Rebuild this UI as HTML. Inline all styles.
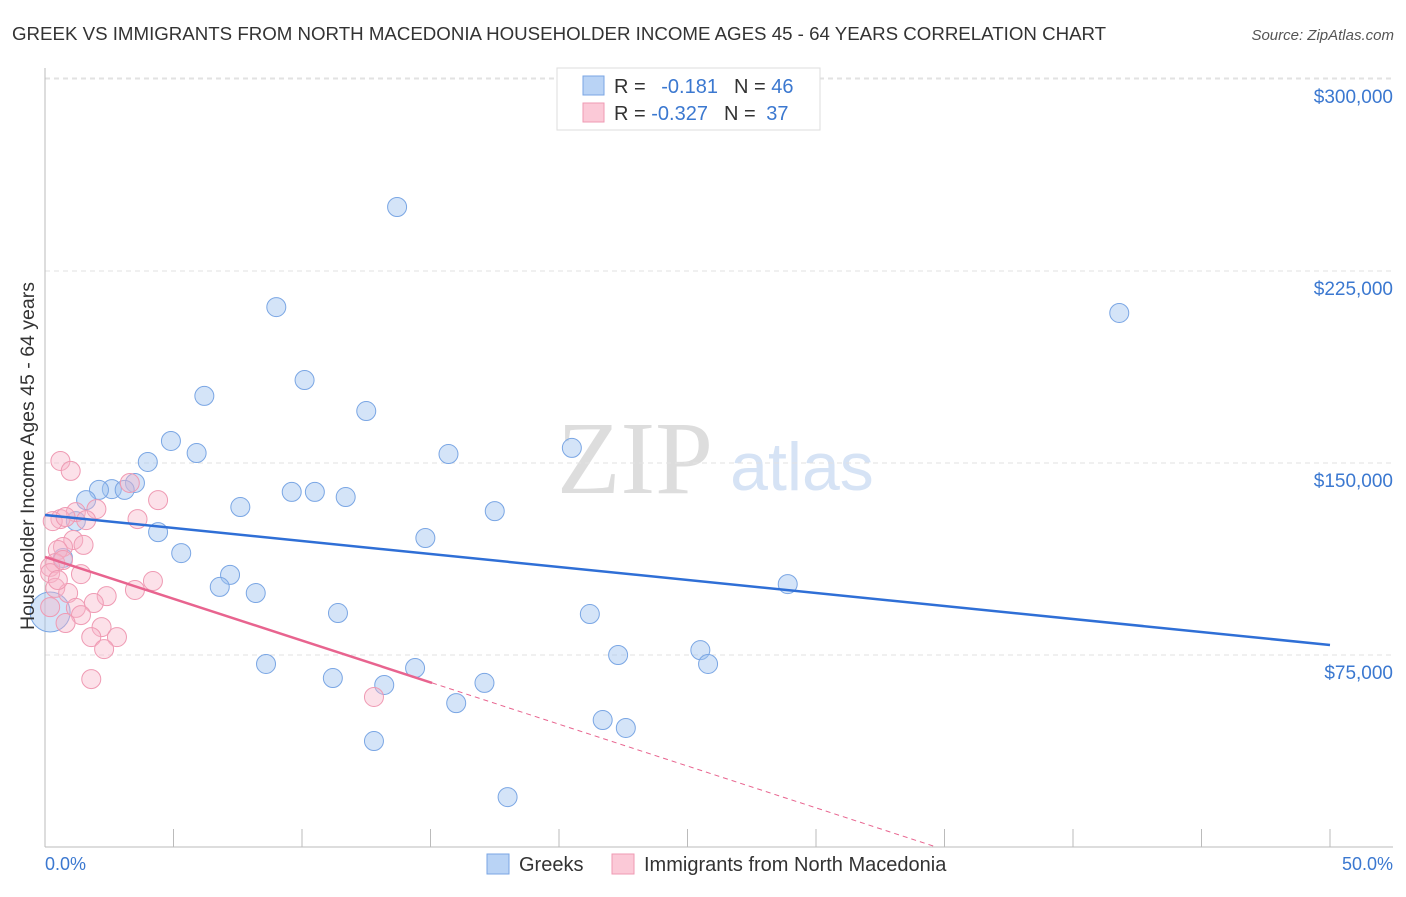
<!DOCTYPE html>
<html><head><meta charset="utf-8"><style>
body{margin:0;background:#fff;font-family:"Liberation Sans",sans-serif}
svg text{font-family:"Liberation Sans",sans-serif}
</style></head><body>
<svg id="chart" width="1406" height="892">
<text x="12" y="40" font-size="18.7" fill="#333">GREEK VS IMMIGRANTS FROM NORTH MACEDONIA HOUSEHOLDER INCOME AGES 45 - 64 YEARS CORRELATION CHART</text>
<text x="1394" y="40" font-size="15" fill="#555" font-style="italic" text-anchor="end">Source: ZipAtlas.com</text>
<text x="635" y="493" font-size="104" fill="#ddd" text-anchor="middle" style="font-family:'Liberation Serif',serif">ZIP</text>
<text x="802" y="490" font-size="68" fill="#d6e3f5" text-anchor="middle">atlas</text>
<g id="grid"></g><g id="axes"></g><g id="marks"></g>
<text transform="translate(34,456) rotate(-90)" font-size="19.5" fill="#333" text-anchor="middle">Householder Income Ages 45 - 64 years</text>
<text x="45" y="870" font-size="18" fill="#3b78d0">0.0%</text>
<text x="1393" y="870" font-size="18" fill="#3b78d0" text-anchor="end">50.0%</text>
<g>
<rect x="557" y="68" width="263" height="62" fill="#fff" stroke="#ddd"/>
<rect x="583" y="76" width="21" height="19" fill="#b9d3f5" stroke="#7aa6e4"/>
<rect x="583" y="103" width="21" height="19" fill="#fbc9d7" stroke="#ef9ab3"/>
<text x="614" y="93" font-size="20" fill="#333">R = <tspan fill="#3b78d0" dx="10">-0.181</tspan><tspan dx="16">N = </tspan><tspan fill="#3b78d0">46</tspan></text>
<text x="614" y="120" font-size="20" fill="#333">R = <tspan fill="#3b78d0">-0.327</tspan><tspan dx="16">N = </tspan><tspan fill="#3b78d0" dx="5">37</tspan></text>
</g>
<g>
<rect x="487" y="854" width="22" height="20" fill="#b9d3f5" stroke="#7aa6e4"/>
<text x="519" y="871" font-size="20" fill="#333">Greeks</text>
<rect x="612" y="854" width="22" height="20" fill="#fbc9d7" stroke="#ef9ab3"/>
<text x="644" y="871" font-size="20" fill="#333">Immigrants from North Macedonia</text>
</g>
</svg>
<script>
const yTicks=[75000,150000,225000,300000];
const yTickLabels=["$75,000","$150,000","$225,000","$300,000"];
const greekX=[13.7,9.0,41.8,10.1,6.2,12.5,4.9,20.5,15.7,5.9,4.0,3.5,2.6,2.1,3.1,9.6,10.5,11.7,1.6,7.6,17.5,1.2,4.4,14.8,5.3,0.7,7.2,6.8,28.9,8.2,11.4,21.2,22.3,25.5,8.6,25.8,14.4,11.2,13.2,17.1,16.0,21.7,22.6,12.8,18.0,0.2];
const greekY=[250.0,210.9,208.6,182.4,176.2,170.3,158.6,155.9,153.5,153.9,150.4,142.2,139.8,139.5,139.5,138.7,138.7,136.7,135.5,132.8,131.2,127.3,123.0,120.7,114.8,112.9,106.3,101.6,102.7,99.2,91.4,91.0,75.0,76.9,71.5,71.5,69.9,66.0,63.3,64.1,56.2,49.6,46.5,41.4,19.5,91.8];
const macX=[0.6,1.0,3.3,4.4,2.0,1.2,0.6,0.3,3.6,1.1,1.5,0.7,0.5,0.4,0.2,0.2,1.4,4.2,3.5,0.4,0.9,2.4,1.9,1.2,1.4,0.2,0.8,2.2,2.8,1.8,2.3,1.8,12.8,0.8,1.6,0.7,0.5];
const macY=[150.8,146.9,142.2,135.5,132.0,130.8,128.1,127.3,128.1,119.9,118.0,117.2,116.0,110.9,109.4,107.0,106.6,103.9,100.4,101.2,99.2,98.0,95.3,93.4,90.6,93.7,87.5,85.9,82.0,82.0,77.3,65.6,58.6,128.9,127.7,112.1,104.3];
const greekTrend=[129.7,78.9];
const macTrend=[113.3,64.1];
const macSolidEnd=15.06;

const NS="http://www.w3.org/2000/svg";
const xs=p=>45+p*25.7;
const ys=v=>847-v*0.00256;
function mk(parent,tag,attrs){const e=document.createElementNS(NS,tag);for(const k in attrs)e.setAttribute(k,attrs[k]);document.getElementById(parent).appendChild(e);return e;}
yTicks.forEach((t,i)=>{
 const l=mk('grid','line',{x1:45,x2:1393,y1:ys(t),y2:ys(t),stroke:'#e2e2e2','stroke-dasharray':'5,4'});
 
 
 const tx=mk('grid','text',{x:1393,y:ys(t)+24,'font-size':19,fill:'#3b78d0','text-anchor':'end'});
 tx.textContent=yTickLabels[i];
 
 
});
const tl=mk('grid','line',{x1:45,x2:1393,y1:78,y2:78,stroke:'#e2e2e2','stroke-dasharray':'5,4'});


const ax=mk('axes','line',{x1:45,x2:1393,y1:847,y2:847,stroke:'#bbb'});


const ay=mk('axes','line',{x1:45,x2:45,y1:68,y2:847,stroke:'#bbb'});


for(let i=1;i<=10;i++){
 const t=mk('axes','line',{x1:xs(i*5),x2:xs(i*5),y1:829,y2:847,stroke:'#bbb'});
 
 
}
greekX.forEach((x,i)=>{
 const big=i===greekX.length-1;
 const c=mk('marks','circle',{cx:xs(x),cy:ys(greekY[i]*1000),r:big?20:9.5,fill:'rgba(160,196,240,0.45)',stroke:'#7aa6e4','stroke-width':1});
 
 
});
macX.forEach((x,i)=>{
 const c=mk('marks','circle',{cx:xs(x),cy:ys(macY[i]*1000),r:9.5,fill:'rgba(248,180,200,0.4)',stroke:'#ef9ab3','stroke-width':1});
 
 
});
const bl=mk('marks','line',{x1:xs(0),y1:ys(greekTrend[0]*1000),x2:xs(50),y2:ys(greekTrend[1]*1000),stroke:'#2f6fd6','stroke-width':2.5});


const slope=(macTrend[1]-macTrend[0])/macSolidEnd;
const zeroX=-macTrend[0]/slope;
const pl=mk('marks','line',{x1:xs(0),y1:ys(macTrend[0]*1000),x2:xs(macSolidEnd),y2:ys(macTrend[1]*1000),stroke:'#e8648f','stroke-width':2.5});


const pd=mk('marks','line',{x1:xs(macSolidEnd),y1:ys(macTrend[1]*1000),x2:xs(zeroX),y2:ys(0),stroke:'#e8648f','stroke-width':1,'stroke-dasharray':'5,4'});


</script>
</body></html>
